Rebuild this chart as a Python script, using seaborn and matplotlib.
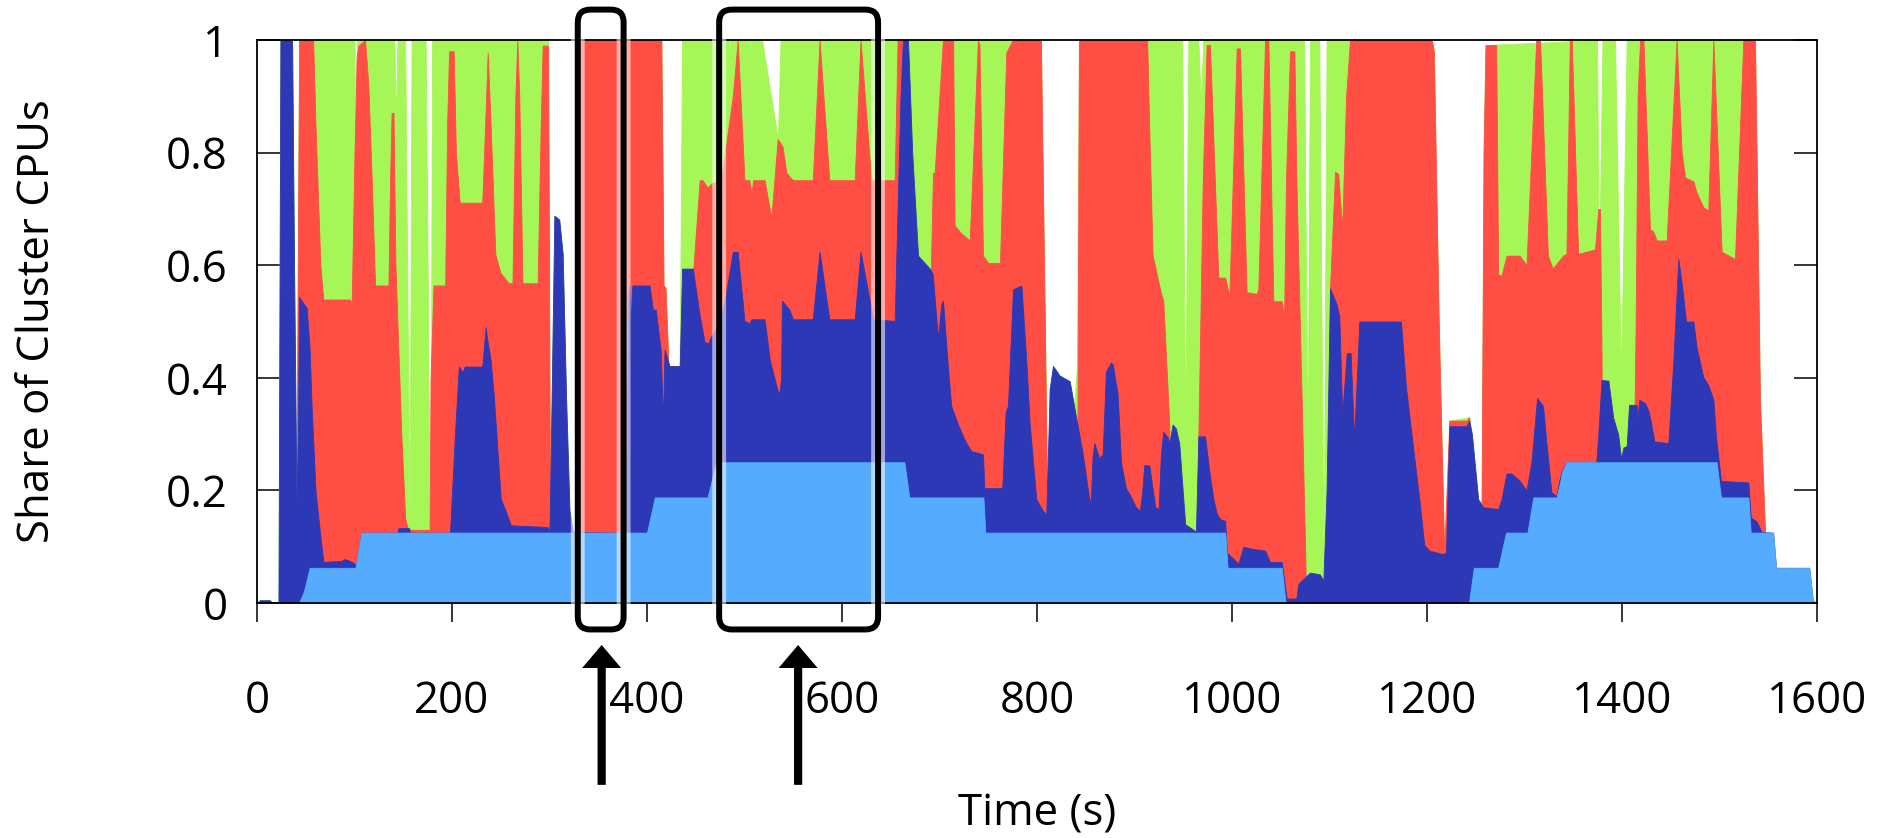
import numpy as np
import pandas as pd
import matplotlib
matplotlib.use("Agg")
import matplotlib.pyplot as plt
import seaborn as sns
from matplotlib.patches import FancyBboxPatch
import matplotlib.patheffects as pe

# ---------------- data (time in s, cumulative share of cluster CPUs) ----------------
light_blue_top = [
    (0, 0), (43, 0), (48, 0.02), (54, 0.0625), (101, 0.0625), (107, 0.125), (400, 0.125),
    (408, 0.1875), (462, 0.1875), (471, 0.25), (664, 0.25), (669, 0.1875), (745, 0.1875),
    (747, 0.125), (993, 0.125), (995.5, 0.0625), (1051, 0.0625), (1055, 0), (1243, 0),
    (1248, 0.0625), (1273, 0.0625), (1281, 0.125), (1303, 0.125), (1309, 0.1875),
    (1333, 0.1875), (1339, 0.235), (1343, 0.25), (1497, 0.25), (1501.5, 0.1875),
    (1529.6, 0.1875), (1532, 0.125), (1555, 0.125), (1558, 0.0625), (1592, 0.0625),
    (1596, 0), (1600, 0),
]

dark_blue_top = [
    (0, 0), (3, 0.005), (13, 0.005), (16, 0), (22, 0), (24, 1.0), (36, 1.0), (38, 0.6),
    (40.5, 0.18), (42, 0.3), (43, 0.544), (51, 0.524), (54, 0.45), (56, 0.35), (60, 0.2),
    (63, 0.15), (68, 0.073), (87, 0.075), (90, 0.078), (95, 0.075), (100, 0.07), (101, 0.0625),
    (107, 0.125), (144, 0.125), (145, 0.133), (156, 0.133), (157, 0.125), (198, 0.125),
    (203, 0.3), (207, 0.42), (211, 0.41), (213, 0.42), (231, 0.42), (234.5, 0.49),
    (236, 0.47), (239.6, 0.431), (243, 0.365), (250, 0.185), (255, 0.164), (260.3, 0.138),
    (298, 0.135), (300, 0.127), (301.6, 0.3), (305, 0.688), (310, 0.681), (313.5, 0.62),
    (317, 0.365), (320.5, 0.165), (324, 0.126), (378, 0.125), (381, 0.55),
    (382, 0.564), (383, 0.491), (385, 0.564), (402.7, 0.564), (406, 0.521), (409, 0.521),
    (414, 0.45), (416.4, 0.324), (418, 0.45), (423, 0.421), (433.5, 0.421), (436, 0.594),
    (447, 0.594), (454, 0.511), (459, 0.464), (462.5, 0.461), (466, 0.474), (476, 0.504),
    (482, 0.56), (488, 0.624), (493, 0.624), (500, 0.501), (505, 0.497), (507, 0.504),
    (520.6, 0.504), (526, 0.431), (534, 0.377), (536, 0.374), (537.5, 0.40), (538.4, 0.537),
    (546, 0.521), (549.7, 0.504), (570, 0.504), (577, 0.624), (587, 0.504), (613, 0.504),
    (619, 0.624), (632, 0.504), (654, 0.501), (660, 0.9), (662.5, 1.0), (667.7, 1.0),
    (672, 0.8), (678, 0.617), (690, 0.594), (693, 0.584), (698.4, 0.471), (701.9, 0.531),
    (703.6, 0.537), (708.7, 0.417), (712, 0.350), (719, 0.317), (724, 0.297), (727.5, 0.284),
    (732.6, 0.270), (744.6, 0.264), (746, 0.204), (764.4, 0.204), (767.8, 0.340),
    (770.2, 0.350), (775.4, 0.557), (784, 0.564), (789, 0.431), (792.5, 0.317),
    (799.3, 0.184), (806, 0.164), (809.5, 0.157), (813, 0.380), (816.4, 0.421),
    (823.2, 0.404), (833.5, 0.394), (838, 0.35), (847, 0.264), (853.6, 0.184), (855.3, 0.184),
    (857, 0.26), (858.8, 0.284), (863.9, 0.257), (867.3, 0.264), (870.7, 0.411),
    (875.8, 0.427), (877.6, 0.424), (882.7, 0.371), (886.1, 0.25), (891.2, 0.204),
    (894.7, 0.194), (901.5, 0.170), (905.6, 0.164), (908, 0.2), (910, 0.245), (915.2, 0.244),
    (921.3, 0.170), (924.7, 0.167), (927.1, 0.264), (929.5, 0.304), (934, 0.294),
    (935.7, 0.284), (939.1, 0.317), (942.5, 0.310), (945.9, 0.283), (949.4, 0.2),
    (952, 0.14), (963, 0.127), (965.5, 0.296), (972.3, 0.296), (977, 0.23), (980.9, 0.185),
    (984.3, 0.159), (987.7, 0.149), (993, 0.146), (994.6, 0.09), (996.3, 0.087),
    (1006.5, 0.070), (1011.6, 0.100), (1018.4, 0.097), (1033.9, 0.093), (1039, 0.073),
    (1051, 0.073), (1056, 0.008), (1066, 0.008), (1068, 0.034), (1080, 0.054),
    (1090, 0.051), (1093.7, 0.040), (1097, 0.2), (1100.5, 0.559), (1107, 0.532),
    (1110, 0.51), (1113, 0.335), (1117.7, 0.444), (1121.7, 0.444), (1125.2, 0.290),
    (1130.6, 0.500), (1173.3, 0.500), (1178.4, 0.384), (1185.2, 0.284), (1192.1, 0.184),
    (1197.2, 0.103), (1202.4, 0.093), (1216, 0.087), (1219.5, 0.09), (1222.9, 0.314),
    (1240.5, 0.314), (1243.3, 0.324), (1246, 0.30), (1252.5, 0.184), (1257.6, 0.170),
    (1273, 0.167), (1276.4, 0.184), (1281.5, 0.230), (1286.6, 0.230), (1295.1, 0.217),
    (1302, 0.2), (1307.1, 0.25), (1312.9, 0.364), (1319, 0.350), (1322.5, 0.284),
    (1327.6, 0.197), (1332.7, 0.190), (1336, 0.22), (1339.5, 0.240), (1342.9, 0.25),
    (1373.6, 0.25), (1375.7, 0.30), (1379, 0.396), (1386, 0.395), (1391, 0.329),
    (1396, 0.30), (1399, 0.257), (1401.4, 0.276), (1404.8, 0.279), (1407.2, 0.352),
    (1415, 0.352), (1416, 0.330), (1417.8, 0.361), (1423.6, 0.355), (1427, 0.342),
    (1429.4, 0.323), (1433.2, 0.287), (1447.5, 0.284), (1452.6, 0.428), (1457.8, 0.611),
    (1461.9, 0.559), (1465.6, 0.500), (1473.2, 0.500), (1476.5, 0.454), (1483.4, 0.401),
    (1488.5, 0.387), (1493.7, 0.361), (1496.4, 0.295), (1501.5, 0.217), (1529.6, 0.214),
    (1532, 0.152), (1538, 0.145), (1543.2, 0.126), (1555, 0.125), (1558, 0.0625),
    (1592, 0.0625), (1596, 0), (1600, 0),
]

red_top = [
    (0, 0), (40.5, 0), (41.5, 0.5), (43.2, 1.0), (57.6, 1.0), (60, 0.85), (65, 0.6),
    (68, 0.539), (95.4, 0.539), (97.1, 0.532), (100, 0.8), (102.2, 0.97), (104, 0.99),
    (110.8, 1.0), (114.2, 0.92), (117.7, 0.75), (121.1, 0.564), (134.8, 0.564), (136.5, 0.75),
    (138, 0.87), (140, 0.871), (142, 0.6), (145, 0.45), (148, 0.3), (152, 0.15), (155, 0.13),
    (177, 0.13), (178, 0.4), (181, 0.564), (193, 0.564), (195, 0.85), (197, 0.98),
    (201.7, 0.98), (204, 0.8), (207.9, 0.711), (231, 0.711), (234, 0.85), (236.6, 0.978),
    (239.6, 0.85), (244.4, 0.62), (249.6, 0.587), (258.1, 0.568), (262, 0.568), (265, 0.9),
    (267, 1.0), (269, 0.9), (272.3, 0.568), (287.8, 0.568), (291, 0.85), (293, 0.99),
    (298.5, 0.99), (300.2, 0.3), (301, 0.1), (329, 0.1), (330, 0.6),
    (331, 1.0), (414.7, 1.0), (417, 0.564), (419, 0.56), (422, 0.421), (447, 0.42),
    (447.5, 0.594), (454, 0.751), (457, 0.751), (462, 0.738), (466, 0.745), (476, 0.751),
    (488, 0.9), (493, 1.0), (500, 0.751), (505, 0.751), (507, 0.728), (509, 0.751),
    (520.6, 0.751), (527.5, 0.684), (534, 0.824), (539, 0.811), (543, 0.764), (549.7, 0.751),
    (570, 0.751), (577, 1.0), (587, 0.751), (613, 0.751), (619, 1.0), (630, 0.751),
    (654, 0.751), (657, 1.0), (662, 1.0), (668, 0.5), (690, 0.5), (693.3, 0.764),
    (695, 0.764), (703.5, 1.0), (714, 1.0), (715.5, 0.671), (722, 0.657), (731, 0.644),
    (739.4, 1.0), (741, 0.991), (744.6, 0.617), (750, 0.604), (762, 0.604), (768.5, 0.978),
    (775, 1.0), (804, 1.0), (808, 0.5), (811, 0.1), (841, 0.1), (843, 1.0), (913, 1.0),
    (915, 0.85), (918.6, 0.617), (922, 0.591), (927, 0.551), (929.5, 0.537), (935.7, 0.317),
    (937, 0.1), (964, 0.1), (965.5, 0.296), (970, 0.75), (974, 0.991), (977.4, 0.991),
    (986, 0.578), (993, 0.578), (997.3, 0.545), (1004.8, 0.985), (1008.2, 0.985),
    (1015, 0.552), (1025.3, 0.549), (1027, 0.558), (1033.9, 1.0), (1037.3, 1.0),
    (1042.4, 0.536), (1051, 0.536), (1053.4, 0.506), (1055.4, 0.755), (1059.5, 0.98),
    (1064, 0.98), (1066, 0.755), (1071.5, 0.36), (1076, 0.02), (1099, 0.02),
    (1100.5, 0.559), (1105.7, 0.766), (1109, 0.762), (1113, 0.665), (1117, 0.9),
    (1121, 1.0), (1205, 1.0), (1207, 0.98), (1212, 0.5), (1217.6, 0.09), (1222.9, 0.324),
    (1240.5, 0.324), (1243.3, 0.33), (1246, 0.1), (1255, 0.1), (1256, 0.18), (1258, 0.8),
    (1260, 0.991), (1271, 0.991), (1273, 0.584), (1276.4, 0.581), (1281.5, 0.617),
    (1295.1, 0.617), (1302, 0.6), (1307, 0.8), (1312, 1.0), (1316, 1.0), (1324, 0.617),
    (1329, 0.594), (1339.5, 0.617), (1343, 0.62), (1346.5, 1.0), (1348.5, 1.0),
    (1355, 0.62), (1372.3, 0.628), (1375.7, 0.70), (1377.4, 0.70), (1379, 0.45),
    (1380, 0.1), (1411, 0.1), (1414, 0.5), (1416, 0.9), (1418.5, 1.0), (1422, 1.0),
    (1428.7, 0.664), (1432, 0.66), (1435.5, 0.644), (1445.8, 0.644), (1456, 1.0),
    (1461.2, 0.801), (1464.6, 0.756), (1473.2, 0.749), (1476.5, 0.729), (1483.4, 0.703),
    (1488.5, 0.697), (1493.7, 1.0), (1502.2, 0.624), (1515.9, 0.611), (1524.4, 1.0),
    (1536.4, 1.0), (1541.5, 0.362), (1546.7, 0.125), (1547.5, 0.05), (1600, 0),
]

total_top = [
    (0, 0), (3, 0.005), (13, 0.005), (16, 0), (22, 0), (24, 1.0), (36, 1.0), (38, 0.6),
    (40.5, 0.18), (41.5, 0.5), (43.2, 1.0), (100, 1.0), (101, 0.75), (102.5, 1.0), (141, 1.0),
    (142.4, 0.85), (144, 1.0), (152, 1.0), (154.5, 0.5), (156.5, 0.14), (158.5, 1.0),
    (173, 1.0), (175.5, 0.5), (177, 0.13), (178, 0.13), (179.5, 1.0), (298.5, 1.0),
    (300.2, 0.3), (301, 0.13), (301.6, 0.3), (305, 0.688), (310, 0.681), (313.5, 0.62),
    (317, 0.365), (320.5, 0.165), (324, 0.126), (329, 0.125), (330, 0.6), (331, 1.0),
    (404, 1.0), (405.5, 0.938), (407, 1.0), (414.7, 1.0), (417, 0.564), (419, 0.56),
    (422, 0.421), (433.5, 0.421), (436, 1.0), (484, 1.0), (484.8, 0.978), (485.6, 1.0),
    (504.5, 1.0), (505.3, 0.978), (506, 1.0), (518, 1.0), (534.3, 0.824), (537, 1.0),
    (804, 1.0), (808, 0.5), (811, 0.157), (813, 0.380), (816.4, 0.421), (823.2, 0.404),
    (833.5, 0.394), (838, 0.35), (841, 0.42), (843, 1.0), (949, 1.0), (952, 0.3),
    (955.2, 1.0), (965.5, 1.0), (968, 0.89), (970.6, 1.0), (1074, 1.0), (1077.5, 0.23),
    (1080, 1.0), (1089.5, 1.0), (1094, 0.05), (1097, 1.0), (1205, 1.0), (1207, 0.98),
    (1212, 0.5), (1217.6, 0.09), (1219.5, 0.09), (1222.9, 0.324), (1243.3, 0.33),
    (1246, 0.30), (1252.5, 0.184), (1256, 0.18), (1258, 0.8), (1260, 0.991), (1374.5, 1.0),
    (1375.7, 0.70), (1377.4, 0.70), (1380, 1.0), (1392.8, 1.0), (1399, 0.40),
    (1404.8, 1.0), (1536.4, 1.0), (1541.5, 0.362), (1546.7, 0.125), (1547.5, 0.05),
    (1600, 0),
]

x_ticks = [0, 200, 400, 600, 800, 1000, 1200, 1400, 1600]
x_tick_labels = ["0", "200", "400", "600", "800", "1000", "1200", "1400", "1600"]
y_ticks = [0, 0.2, 0.4, 0.6, 0.8, 1.0]
y_tick_labels = ["0", "0.2", "0.4", "0.6", "0.8", "1"]
highlight_windows = [(329, 376), (474, 637)]
arrow_times = [353.5, 555]

# ---------------- style ----------------
sns.set_theme(style="white")
plt.rcParams["font.family"] = ["Open Sans", "DejaVu Sans"]

GREEN = "#A6F658"
RED = "#FF4E44"
DARK_BLUE = "#2D38B7"
LIGHT_BLUE = "#55ACFF"

W, H = 1891, 838
fig = plt.figure(figsize=(W / 100, H / 100), dpi=100)
ax_l, ax_r, ax_t, ax_b = 257, 1817, 40, 603
ax = fig.add_axes([ax_l / W, 1 - ax_b / H, (ax_r - ax_l) / W, (ax_b - ax_t) / H])

layers = [
    ("total", total_top, GREEN),
    ("red", red_top, RED),
    ("dark_blue", dark_blue_top, DARK_BLUE),
    ("light_blue", light_blue_top, LIGHT_BLUE),
]
for name, pts, col in layers:
    df = pd.DataFrame(pts, columns=["time", "share"])
    ax.fill_between(df["time"], 0, df["share"], color=col, lw=0.6, edgecolor=col,
                    zorder=1)

ax.set_xlim(0, 1600)
ax.set_ylim(0, 1)
ax.set_xticks(x_ticks)
ax.set_xticklabels(x_tick_labels)
ax.set_yticks(y_ticks)
ax.set_yticklabels(y_tick_labels)

for s in ax.spines.values():
    s.set_color("black")
    s.set_linewidth(1.3)
    s.set_visible(True)

FS = 31.5
ax.tick_params(axis="x", which="both", direction="out", length=14, width=1.1, pad=41,
               labelsize=FS, bottom=True, top=False, colors="black")
ax.tick_params(axis="y", which="both", direction="in", length=16.5, width=1.1, pad=21,
               labelsize=FS, left=True, right=True, colors="black")

ax.set_xlabel("Time (s)", fontsize=FS, color="black")
ax.xaxis.set_label_coords(0.5, -0.336)
ax.set_ylabel("Share of Cluster CPUs", fontsize=FS, color="black")
ax.yaxis.set_label_coords(-0.126, 0.5)

# highlight boxes (rounded, equal pixel radii)
px_per_t = (ax_r - ax_l) / 1600.0
px_per_v = (ax_b - ax_t) / 1.0
aspect = px_per_t / px_per_v
y0, y1 = -0.047, 1.054
for (t0, t1) in highlight_windows:
    box = FancyBboxPatch((t0, y0), t1 - t0, y1 - y0,
                         boxstyle="round,pad=0,rounding_size=13",
                         mutation_aspect=aspect, transform=ax.transData,
                         fill=False, edgecolor="black", lw=4.3, clip_on=False, zorder=5,
                         path_effects=[pe.Stroke(linewidth=10, foreground="white", alpha=0.55),
                                       pe.Normal()])
    ax.add_patch(box)

# upward arrows below the axis
tip_v, tail_v = -0.0746, -0.323
for t in arrow_times:
    ax.arrow(t, tail_v, 0, tip_v - tail_v, width=8.2 / px_per_t,
             head_width=39 / px_per_t, head_length=23 / px_per_v,
             length_includes_head=True, color="black", lw=0, clip_on=False, zorder=6)

fig.savefig("out.png", dpi=100)
